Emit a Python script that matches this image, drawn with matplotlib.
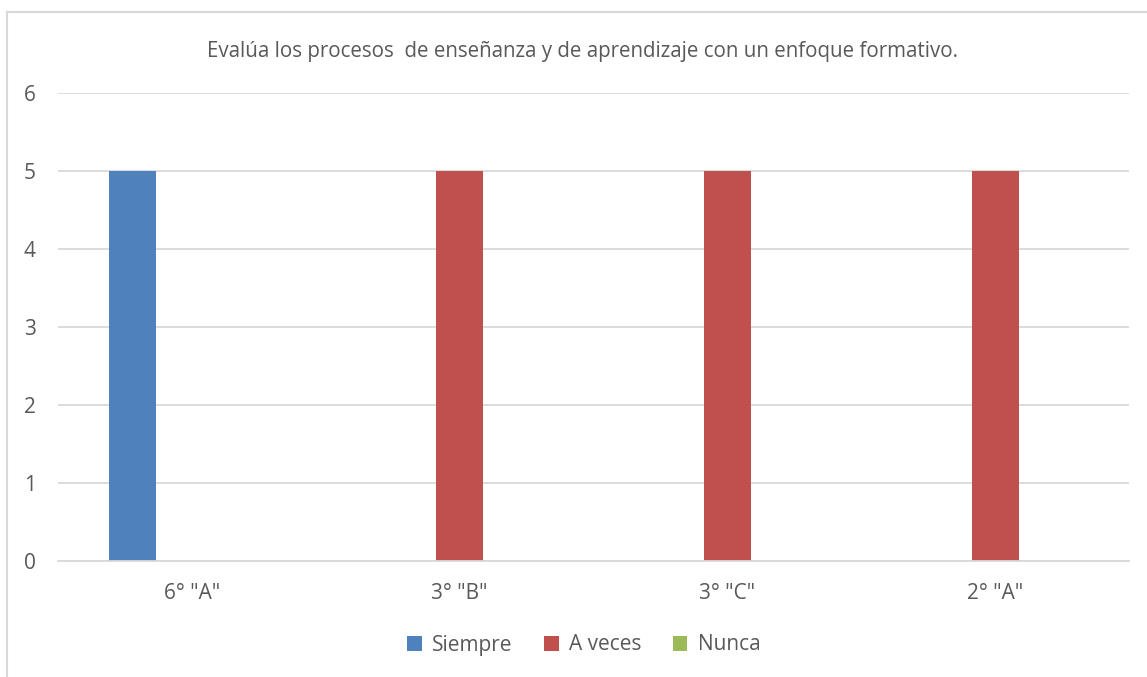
import matplotlib
matplotlib.use('Agg')
import matplotlib.pyplot as plt
from matplotlib.lines import Line2D
import numpy as np

# Chart data
categories = ['6° "A"', '3° "B"', '3° "C"', '2° "A"']
series_names = ['Siempre', 'A veces', 'Nunca']
siempre = [5, 0, 0, 0]
a_veces = [0, 5, 5, 5]
nunca = [0, 0, 0, 0]
colors = ['#4F81BD', '#C0504D', '#9BBB59']
title = 'Evalúa los procesos  de enseñanza y de aprendizaje con un enfoque formativo.'

plt.rcParams['font.family'] = ['Open Sans', 'DejaVu Sans']

fig = plt.figure(figsize=(11.47, 6.77), dpi=100)
ax = fig.add_axes([58 / 1147, 1 - 561 / 677, (1129 - 58) / 1147, (561 - 93) / 677])

x = np.arange(len(categories))
width = 0.175
offset = 0.222
handles = []
for i, (vals, name, c) in enumerate(zip([siempre, a_veces, nunca], series_names, colors)):
    b = ax.bar(x + (i - 1) * offset, vals, width, color=c, linewidth=0, label=name, zorder=3)
    handles.append(b)

ax.set_xlim(-0.5, len(categories) - 0.5)
ax.set_ylim(0, 6)
ax.set_yticks(range(0, 7))
ax.set_xticks(x)
ax.set_xticklabels(categories)

ax.grid(axis='y', color='#D9D9D9', linewidth=1.3, zorder=0)
for s in ['top', 'right', 'left']:
    ax.spines[s].set_visible(False)
ax.spines['bottom'].set_color('#D9D9D9')
ax.spines['bottom'].set_linewidth(1.3)
ax.spines['bottom'].set_zorder(4)
ax.tick_params(axis='both', length=0, labelsize=15, labelcolor='#595959')
ax.tick_params(axis='y', pad=16)
ax.tick_params(axis='x', pad=16)

fig.text(583 / 1147, 1 - 51 / 677, title, ha='center', va='center', fontsize=14.8, color='#595959')

leg = fig.legend(handles=handles, labels=series_names, loc='center',
                 bbox_to_anchor=(584 / 1147, 1 - 645 / 677), ncol=3, frameon=False,
                 fontsize=15, handlelength=0.7, handleheight=0.7, handletextpad=0.5,
                 columnspacing=1.5)
for t in leg.get_texts():
    t.set_color('#595959')

# chart area border (cropped at right and bottom)
fig.add_artist(Line2D([7 / 1147, 1], [1 - 12 / 677, 1 - 12 / 677], color='#D9D9D9', linewidth=1.5))
fig.add_artist(Line2D([7 / 1147, 7 / 1147], [0, 1 - 12 / 677], color='#D9D9D9', linewidth=1.5))

fig.savefig('out.png', dpi=100)
